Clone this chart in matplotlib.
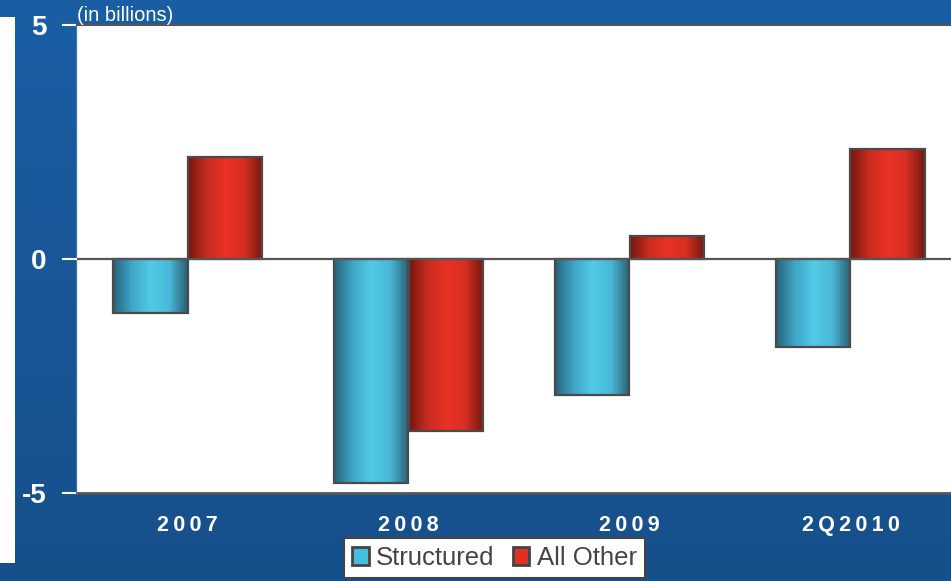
import numpy as np
import matplotlib.pyplot as plt
from matplotlib.colors import LinearSegmentedColormap
from matplotlib.patches import Rectangle, Patch

plt.rcParams['font.family'] = ['Liberation Sans', 'DejaVu Sans']

categories = ['2007', '2008', '2009', '2Q2010']
structured = [-1.15, -4.78, -2.9, -1.88]
all_other = [2.18, -3.68, 0.49, 2.35]
yticks = [-5, 0, 5]

blue_cm = LinearSegmentedColormap.from_list('b', ['#27647a', '#3fa6c6', '#52c9e8', '#4ab8d8', '#2a5f72'])
red_cm = LinearSegmentedColormap.from_list('r', ['#761810', '#c92c20', '#e93224', '#d82e22', '#721910'])

fig = plt.figure(figsize=(9.51, 5.81), dpi=100)

# blue background
bg = fig.add_axes([0, 0, 1, 1], zorder=-2)
grad = np.linspace(0, 1, 256).reshape(-1, 1)
bg.imshow(grad, aspect='auto', extent=[0, 1, 0, 1],
          cmap=LinearSegmentedColormap.from_list('bg', ['#16508b', '#1a5ea4']), origin='lower')
bg.axis('off')
fig.patches.append(Rectangle((0, 18/581), 15/951, 546/581, transform=fig.transFigure,
                             facecolor='white', edgecolor='none', zorder=-1))

ax = fig.add_axes([77/951, 88/581, 884/951, 468/581])
ax.set_facecolor('white')
x = np.arange(len(categories))
w = 0.335


def shaded_bars(xs, vals, cmap):
    bars = ax.bar(xs, vals, width=w, color='none', edgecolor='#4a4a4a', linewidth=1.6, zorder=3)
    g = np.linspace(0, 1, 200).reshape(1, -1)
    for b in bars:
        x0, y0 = b.get_x(), b.get_y()
        im = ax.imshow(g, aspect='auto', cmap=cmap, zorder=2,
                       extent=[x0, x0 + b.get_width(), y0, y0 + b.get_height()])
        im.set_clip_path(b)
    return bars


shaded_bars(x - w / 2, structured, blue_cm)
shaded_bars(x + w / 2, all_other, red_cm)

ax.axhline(0, color='#555555', lw=1.6, zorder=4)
ax.set_xlim(-0.5, len(categories) - 0.5)
ax.set_ylim(-5, 5)
ax.set_yticks(yticks)
ax.set_yticklabels([str(v) for v in yticks], color='white', fontsize=20, fontweight='bold')
ax.set_xticks(x)
ax.set_xticklabels(['\u2009'.join(c) for c in categories], color='white', fontsize=15.5, fontweight='bold')
ax.tick_params(axis='y', colors='white', length=11, width=1.5, pad=11, labelcolor='white')
ax.tick_params(axis='x', length=0, pad=16)
ax.spines['right'].set_visible(False)
ax.spines['left'].set_color('#e8eef6')
ax.spines['left'].set_linewidth(1)
ax.spines['bottom'].set_color('#555555')
ax.spines['bottom'].set_linewidth(2)
ax.spines['top'].set_color('#555555')
ax.spines['top'].set_linewidth(1.5)

ax.text(0.0, 1.0, '(in billions)', transform=ax.transAxes, color='white', fontsize=14.5, va='bottom', ha='left')

handles = [Patch(facecolor='#45bde0', edgecolor='#444444', linewidth=2, label='Structured'),
           Patch(facecolor='#e03024', edgecolor='#444444', linewidth=2, label='All Other')]
leg = fig.legend(handles=handles, loc='center', bbox_to_anchor=(494.5/951, 1 - 558/581), ncol=2,
                 fontsize=18.5, frameon=True, fancybox=False, framealpha=1, handlelength=0.65, handleheight=0.65,
                 handletextpad=0.3, columnspacing=0.7, borderpad=0.3, borderaxespad=0, labelcolor='#444444')
leg.get_frame().set_edgecolor('#444444')
leg.get_frame().set_linewidth(1.5)

fig.savefig('out.png', dpi=100)
